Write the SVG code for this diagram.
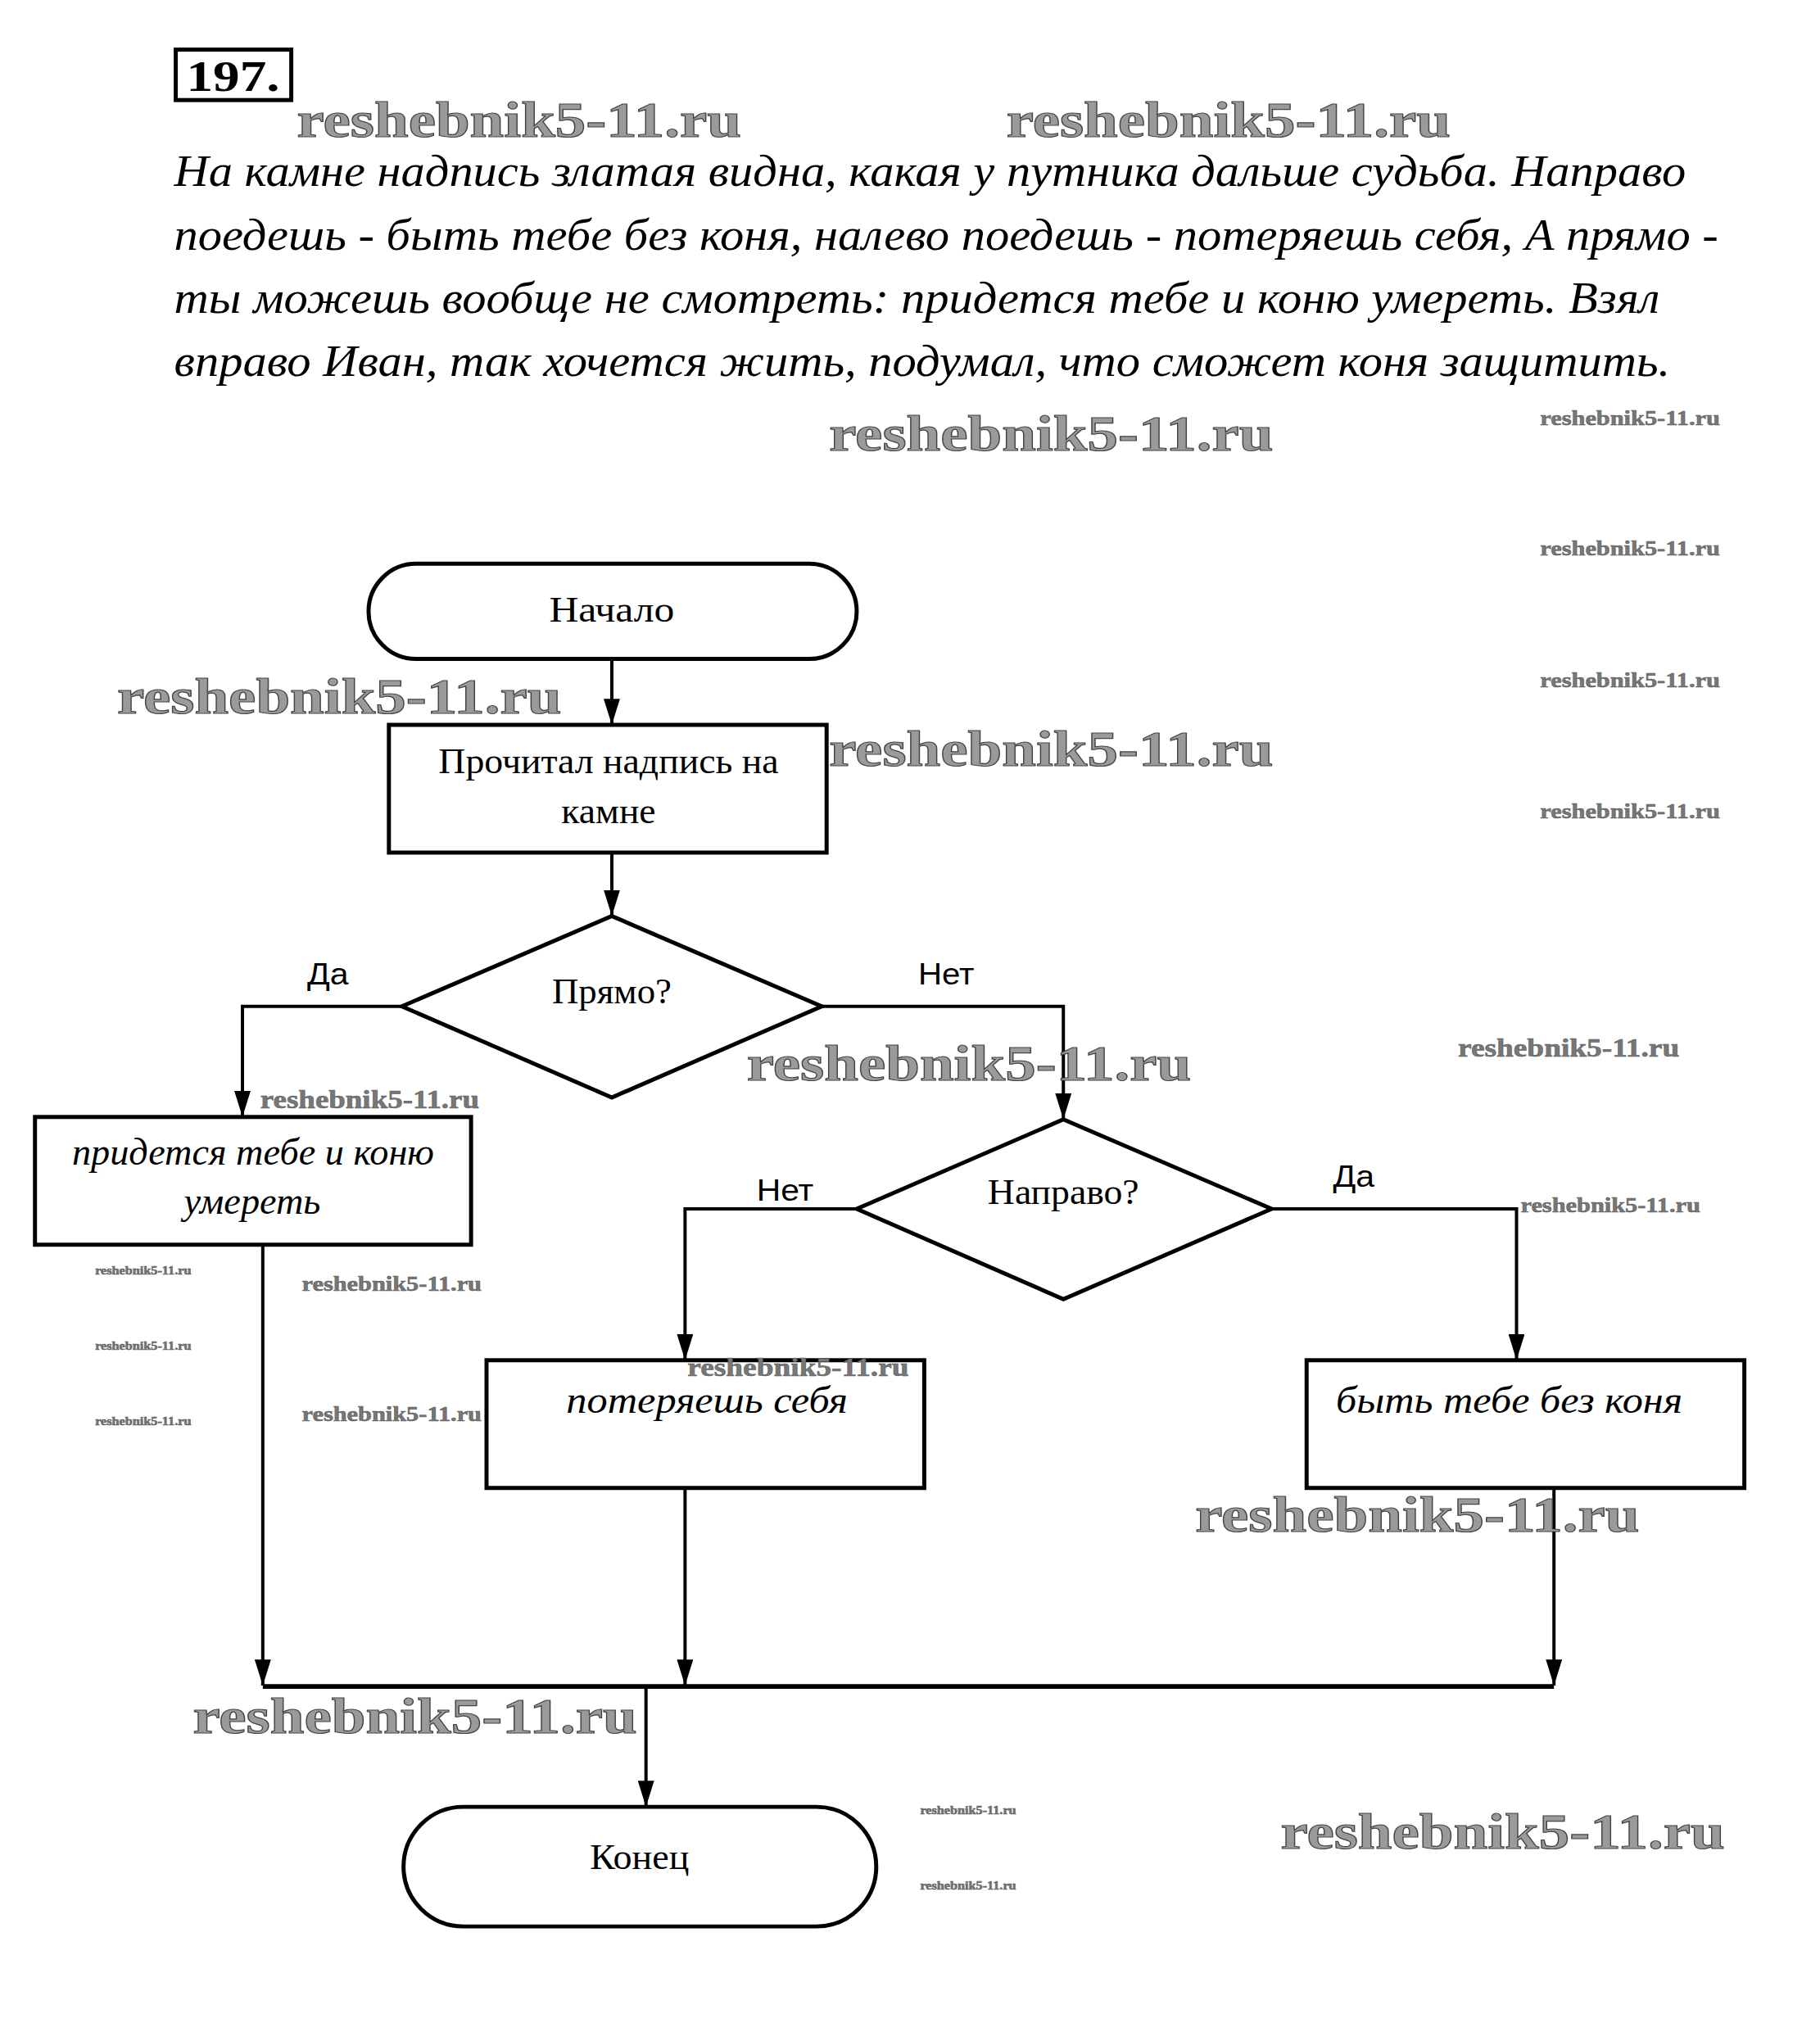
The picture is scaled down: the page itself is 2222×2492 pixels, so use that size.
<svg xmlns="http://www.w3.org/2000/svg" width="2222" height="2492" viewBox="0 0 2222 2492">
<style>
.shape{fill:#fff;stroke:#000;stroke-width:5}
.conn{fill:none;stroke:#000;stroke-width:4}
.serif{font-family:"Liberation Serif","Times New Roman",serif;fill:#000}
.ital{font-family:"Liberation Serif","Times New Roman",serif;font-style:italic;fill:#000}
.sans{font-family:"Liberation Sans",Arial,sans-serif;fill:#000}
.wm{font-family:"Liberation Serif","Times New Roman",serif;font-weight:bold;fill:#9a9a9a;stroke:#444;stroke-width:1.2}
.wms{font-family:"Liberation Serif","Times New Roman",serif;font-weight:bold;fill:#777;stroke:#555;stroke-width:0.5}
</style>
<defs>
<marker id="arr" viewBox="0 0 16 10" refX="16" refY="5" markerWidth="8" markerHeight="5" markerUnits="strokeWidth" orient="auto">
<path d="M0,0 L16,5 L0,10 z" fill="#000"/>
</marker>
</defs>
<rect width="2222" height="2492" fill="#fff"/>
<g transform="scale(0.9933)">
<g id="header">
<rect x="216" y="61" width="142" height="62" fill="none" stroke="#000" stroke-width="5"/>
<text x="229" y="112" class="serif" font-weight="bold" font-size="54" textLength="115" lengthAdjust="spacingAndGlyphs">197.</text>
</g>

<g id="paragraph" class="ital" font-size="56">
<text x="214" y="229" textLength="1858" lengthAdjust="spacingAndGlyphs">На камне надпись златая видна, какая у путника дальше судьба. Направо</text>
<text x="214" y="307" textLength="1898" lengthAdjust="spacingAndGlyphs">поедешь - быть тебе без коня, налево поедешь - потеряешь себя, А прямо -</text>
<text x="214" y="385" textLength="1826" lengthAdjust="spacingAndGlyphs">ты можешь вообще не смотреть: придется тебе и коню умереть. Взял</text>
<text x="214" y="462" textLength="1839" lengthAdjust="spacingAndGlyphs">вправо Иван, так хочется жить, подумал, что сможет коня защитить.</text>
</g>

<g id="connectors">
<line class="conn" x1="752" y1="810" x2="752" y2="891" marker-end="url(#arr)"/>
<line class="conn" x1="752" y1="1048" x2="752" y2="1126" marker-end="url(#arr)"/>
<polyline class="conn" points="494,1237 298,1237 298,1373" marker-end="url(#arr)"/>
<polyline class="conn" points="1010,1237 1307,1237 1307,1376" marker-end="url(#arr)"/>
<polyline class="conn" points="1053,1486 842,1486 842,1672" marker-end="url(#arr)"/>
<polyline class="conn" points="1563,1486 1864,1486 1864,1672" marker-end="url(#arr)"/>
<line class="conn" x1="323" y1="1530" x2="323" y2="2072" marker-end="url(#arr)"/>
<line class="conn" x1="842" y1="1829" x2="842" y2="2072" marker-end="url(#arr)"/>
<line class="conn" x1="1910" y1="1829" x2="1910" y2="2072" marker-end="url(#arr)"/>
<line x1="323" y1="2073" x2="1910" y2="2073" stroke="#000" stroke-width="6"/>
<line class="conn" x1="794" y1="2073" x2="794" y2="2221" marker-end="url(#arr)"/>
<text x="403" y="1210" class="sans" font-size="38" text-anchor="middle" textLength="51" lengthAdjust="spacingAndGlyphs">Да</text>
<text x="1163" y="1210" class="sans" font-size="38" text-anchor="middle" textLength="69" lengthAdjust="spacingAndGlyphs" fill="#444">Нет</text>
<text x="965" y="1476" class="sans" font-size="38" text-anchor="middle" textLength="70" lengthAdjust="spacingAndGlyphs">Нет</text>
<text x="1664" y="1459" class="sans" font-size="38" text-anchor="middle" textLength="51" lengthAdjust="spacingAndGlyphs">Да</text>
</g>

<g id="start">
<rect class="shape" x="453" y="693" width="600" height="117" rx="58.5" ry="58.5"/>
<text x="752" y="764" class="serif" font-size="44" text-anchor="middle" textLength="154" lengthAdjust="spacingAndGlyphs">Начало</text>
</g>

<g id="read">
<rect class="shape" x="478" y="891" width="538" height="157"/>
<text x="748" y="950" class="serif" font-size="44" text-anchor="middle" textLength="418" lengthAdjust="spacingAndGlyphs">Прочитал надпись на</text>
<text x="748" y="1012" class="serif" font-size="44" text-anchor="middle" textLength="116" lengthAdjust="spacingAndGlyphs">камне</text>
</g>

<g id="straight">
<polygon class="shape" points="752,1126 1010,1237 752,1349 494,1237"/>
<text x="752" y="1233" class="serif" font-size="44" text-anchor="middle" textLength="147" lengthAdjust="spacingAndGlyphs">Прямо?</text>
</g>

<g id="die">
<rect class="shape" x="43" y="1373" width="536" height="157"/>
<text x="311" y="1432" class="ital" font-size="46" text-anchor="middle" textLength="445" lengthAdjust="spacingAndGlyphs">придется тебе и коню</text>
<text x="310" y="1492" class="ital" font-size="46" text-anchor="middle" textLength="168" lengthAdjust="spacingAndGlyphs">умереть</text>
</g>

<g id="right">
<polygon class="shape" points="1307,1376 1563,1486 1307,1597 1053,1486"/>
<text x="1307" y="1480" class="serif" font-size="44" text-anchor="middle" textLength="186" lengthAdjust="spacingAndGlyphs">Направо?</text>
</g>

<g id="lose">
<rect class="shape" x="598" y="1672" width="538" height="157"/>
<text x="869" y="1737" class="ital" font-size="46" text-anchor="middle" textLength="346" lengthAdjust="spacingAndGlyphs">потеряешь себя</text>
</g>

<g id="nohorse">
<rect class="shape" x="1606" y="1672" width="538" height="157"/>
<text x="1642" y="1737" class="ital" font-size="46" textLength="426" lengthAdjust="spacingAndGlyphs">быть тебе без коня</text>
</g>

<g id="end">
<rect class="shape" x="496" y="2221" width="581" height="147" rx="73.5" ry="73.5"/>
<text x="786" y="2297" class="serif" font-size="44" text-anchor="middle" textLength="122" lengthAdjust="spacingAndGlyphs">Конец</text>
</g>

<g id="watermarks">
<text class="wm" x="365" y="168" font-size="62" textLength="546" lengthAdjust="spacingAndGlyphs">reshebnik5-11.ru</text>
<text class="wm" x="1237" y="168" font-size="62" textLength="546" lengthAdjust="spacingAndGlyphs">reshebnik5-11.ru</text>
<text class="wm" x="1019" y="554" font-size="62" textLength="546" lengthAdjust="spacingAndGlyphs">reshebnik5-11.ru</text>
<text class="wm" x="144" y="877" font-size="62" textLength="546" lengthAdjust="spacingAndGlyphs">reshebnik5-11.ru</text>
<text class="wm" x="1019" y="941" font-size="62" textLength="546" lengthAdjust="spacingAndGlyphs">reshebnik5-11.ru</text>
<text class="wm" x="918" y="1328" font-size="62" textLength="546" lengthAdjust="spacingAndGlyphs">reshebnik5-11.ru</text>
<text class="wm" x="1469" y="1883" font-size="62" textLength="546" lengthAdjust="spacingAndGlyphs">reshebnik5-11.ru</text>
<text class="wm" x="237" y="2130" font-size="62" textLength="546" lengthAdjust="spacingAndGlyphs">reshebnik5-11.ru</text>
<text class="wm" x="1574" y="2272" font-size="62" textLength="546" lengthAdjust="spacingAndGlyphs">reshebnik5-11.ru</text>
<text class="wms" x="1893" y="523" font-size="25" textLength="221" lengthAdjust="spacingAndGlyphs">reshebnik5-11.ru</text>
<text class="wms" x="1893" y="683" font-size="25" textLength="221" lengthAdjust="spacingAndGlyphs">reshebnik5-11.ru</text>
<text class="wms" x="1893" y="845" font-size="25" textLength="221" lengthAdjust="spacingAndGlyphs">reshebnik5-11.ru</text>
<text class="wms" x="1893" y="1006" font-size="25" textLength="221" lengthAdjust="spacingAndGlyphs">reshebnik5-11.ru</text>
<text class="wms" x="1792" y="1299" font-size="31" textLength="272" lengthAdjust="spacingAndGlyphs">reshebnik5-11.ru</text>
<text class="wms" x="320" y="1362" font-size="31" textLength="269" lengthAdjust="spacingAndGlyphs">reshebnik5-11.ru</text>
<text class="wms" x="1869" y="1490" font-size="25" textLength="221" lengthAdjust="spacingAndGlyphs">reshebnik5-11.ru</text>
<text class="wms" x="371" y="1587" font-size="25" textLength="221" lengthAdjust="spacingAndGlyphs">reshebnik5-11.ru</text>
<text class="wms" x="371" y="1747" font-size="25" textLength="221" lengthAdjust="spacingAndGlyphs">reshebnik5-11.ru</text>
<text class="wms" x="845" y="1691" font-size="31" textLength="272" lengthAdjust="spacingAndGlyphs">reshebnik5-11.ru</text>
<text class="wms" x="117" y="1566" font-size="14" textLength="118" lengthAdjust="spacingAndGlyphs">reshebnik5-11.ru</text>
<text class="wms" x="117" y="1659" font-size="14" textLength="118" lengthAdjust="spacingAndGlyphs">reshebnik5-11.ru</text>
<text class="wms" x="117" y="1752" font-size="14" textLength="118" lengthAdjust="spacingAndGlyphs">reshebnik5-11.ru</text>
<text class="wms" x="1131" y="2230" font-size="14" textLength="118" lengthAdjust="spacingAndGlyphs">reshebnik5-11.ru</text>
<text class="wms" x="1131" y="2323" font-size="14" textLength="118" lengthAdjust="spacingAndGlyphs">reshebnik5-11.ru</text>
</g>
</g>
</svg>
